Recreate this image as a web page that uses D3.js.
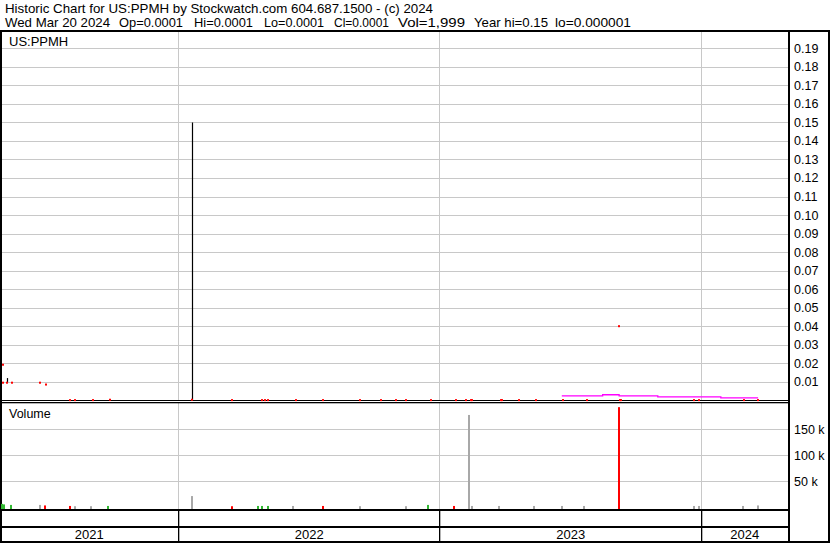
<!DOCTYPE html>
<html><head><meta charset="utf-8">
<script src="https://cdn.jsdelivr.net/npm/d3@7"></script>
<style>
html,body{margin:0;padding:0;background:#fff;}
svg{display:block;font-family:"Liberation Sans",Arial,sans-serif;}
</style>
</head><body>
<svg id="c" width="830" height="543"></svg>
<script>
// ---------- DATA ----------
const headerLine1 = "Historic Chart for US:PPMH by Stockwatch.com 604.687.1500 - (c) 2024";
const headerLine2 = ["Wed Mar 20 2024","Op=0.0001","Hi=0.0001","Lo=0.0001","Cl=0.0001","Vol=1,999","Year hi=0.15","lo=0.000001"];
const symbolLabel = "US:PPMH";
const volumeLabel = "Volume";

const priceDates = ["2021-05-01","2021-05-01","2021-05-06","2021-05-07","2021-05-14","2021-06-22","2021-06-30",
  "2021-08-03","2021-08-09","2021-09-03","2021-09-28","2022-01-20","2022-01-20","2022-03-17",
  "2022-04-28","2022-05-02","2022-05-06","2022-06-14","2022-07-22","2022-09-12","2022-10-10","2022-10-31",
  "2022-11-15","2022-12-19","2023-01-23","2023-02-06","2023-02-13","2023-02-15","2023-03-27","2023-03-29",
  "2023-04-21","2023-05-15","2023-06-21","2023-07-25","2023-09-08","2023-09-09","2023-09-11",
  "2023-12-22","2023-12-28","2024-03-01","2024-03-20"];
const priceHigh = [0.0192,0.0095,0.012,0.0095,0.0095,0.0095,0.0085,
  0.0001,0.0001,0.0001,0.0003,0.15,0.0003,0.0001,
  0.0001,0.0001,0.0001,0.0001,0.0001,0.0001,0.0001,0.0001,
  0.0001,0.0001,0.0001,0.0001,0.0001,0.0001,0.0001,0.0001,
  0.0001,0.0001,0.0001,0.0001,0.04,0.0001,0.0001,
  0.0001,0.0001,0.0001,0.0001];
const priceLow = [0.0192,0.0095,0.0095,0.0095,0.0095,0.0095,0.0085,
  0.0001,0.0001,0.0001,0.0003,0.0001,0.0003,0.0001,
  0.0001,0.0001,0.0001,0.0001,0.0001,0.0001,0.0001,0.0001,
  0.0001,0.0001,0.0001,0.0001,0.0001,0.0001,0.0001,0.0001,
  0.0001,0.0001,0.0001,0.0001,0.04,0.0001,0.0001,
  0.0001,0.0001,0.0001,0.0001];
const priceColor = ["r","r","k","r","r","r","r",
  "r","r","r","r","k","r","r",
  "r","r","r","r","r","r","r","r",
  "r","r","r","r","r","r","r","r",
  "r","r","r","r","r","r","r",
  "r","r","r","r"];

// moving-average style step line (magenta)
const maDates = ["2023-06-20","2023-08-16","2023-09-08","2023-11-01","2024-01-28","2024-03-20"];
const maValues = [0.0024,0.003,0.0024,0.0019,0.0013,0.0013];

const volDates = ["2021-04-30","2021-05-03","2021-05-12","2021-06-21","2021-06-29","2021-08-02","2021-08-09",
  "2021-09-01","2021-09-24","2022-01-20","2022-03-16","2022-04-22","2022-04-28","2022-05-06",
  "2022-06-10","2022-07-22","2022-09-12","2022-11-14","2022-12-15","2023-01-20","2023-02-10",
  "2023-02-14","2023-03-24","2023-05-12","2023-06-20","2023-07-21","2023-09-08","2023-12-21",
  "2023-12-28","2024-02-28","2024-03-20"];
const volValues = [6000,5000,4000,4000,3000,2000,1500,
  1500,2000,21000,1500,2000,2000,2000,
  2000,2000,1500,1500,4000,2000,177000,
  2000,2000,2000,2000,2000,192000,2000,
  2000,2000,3000];
const volColor = ["g","g","g","x","r","r","x",
  "x","g","x","r","g","g","g",
  "x","r","x","x","g","r","x",
  "x","x","x","x","x","r","x",
  "x","x","x"];

const priceTicks = [0.01,0.02,0.03,0.04,0.05,0.06,0.07,0.08,0.09,0.10,0.11,0.12,0.13,0.14,0.15,0.16,0.17,0.18,0.19];
const volTicks = [50000,100000,150000];
const yearBoundaries = ["2022-01-01","2023-01-01","2024-01-01"];
const yearLabels = ["2021","2022","2023","2024"];

// ---------- CHART ----------
const svg = d3.select("#c");
const parse = d3.utcParse("%Y-%m-%d");
const colorMap = {r:"#ff0000", k:"#000000", g:"#33b833", x:"#a8a8a8"};

const plotL = 2, plotR = 788;
const x = d3.scaleUtc().domain([parse("2022-01-01"), parse("2024-01-01")]).range([178.5, 701.5]);
const yP = d3.scaleLinear().domain([0, 0.19]).range([400.3, 48.3]);
const yV = d3.scaleLinear().domain([0, 150000]).range([507, 429]);

svg.append("rect").attr("width",830).attr("height",543).attr("fill","#fff");

// header
svg.append("text").attr("x",5).attr("y",13).attr("font-size",13)
  .attr("textLength",428).attr("lengthAdjust","spacingAndGlyphs").text(headerLine1);
const hx = [5,119,194,264,334,398,474,555];
const hw = [105,64,59,60,55,67,74,76];
headerLine2.forEach((t,i)=>{
  svg.append("text").attr("x",hx[i]).attr("y",27).attr("font-size",13)
    .attr("textLength",hw[i]).attr("lengthAdjust","spacingAndGlyphs").text(t);
});

// gridlines
const grid = svg.append("g").attr("stroke","#c8c8c8").attr("stroke-width",1);
grid.selectAll(".hp").data(priceTicks).join("line")
  .attr("x1",plotL).attr("x2",plotR)
  .attr("y1",d=>Math.round(yP(d))+0.5).attr("y2",d=>Math.round(yP(d))+0.5);
grid.selectAll(".hv").data(volTicks).join("line")
  .attr("x1",plotL).attr("x2",plotR)
  .attr("y1",d=>Math.round(yV(d))+0.5).attr("y2",d=>Math.round(yV(d))+0.5);
const yb = yearBoundaries.map(parse);
grid.selectAll(".vp").data(yb).join("line")
  .attr("x1",d=>Math.round(x(d))-0.5).attr("x2",d=>Math.round(x(d))-0.5)
  .attr("y1",32).attr("y2",400);
grid.selectAll(".vv").data(yb).join("line")
  .attr("x1",d=>Math.round(x(d))-0.5).attr("x2",d=>Math.round(x(d))-0.5)
  .attr("y1",403).attr("y2",509);

// labels in panels
svg.append("text").attr("x",9).attr("y",46).attr("font-size",13).text(symbolLabel);
svg.append("text").attr("x",9).attr("y",418).attr("font-size",12.5).text(volumeLabel);

// frame lines
const frame = svg.append("g").attr("fill","#000");
frame.append("rect").attr("x",0).attr("y",30).attr("width",830).attr("height",2);
frame.append("rect").attr("x",0).attr("y",30).attr("width",2).attr("height",513);
frame.append("rect").attr("x",788).attr("y",30).attr("width",2).attr("height",513);
frame.append("rect").attr("x",828).attr("y",30).attr("width",2).attr("height",513);
frame.append("rect").attr("x",0).attr("y",541).attr("width",830).attr("height",2);
frame.append("rect").attr("x",0).attr("y",400).attr("width",790).attr("height",1);
frame.append("rect").attr("x",0).attr("y",402).attr("width",790).attr("height",1.3);
frame.append("rect").attr("x",0).attr("y",509).attr("width",790).attr("height",2);
frame.append("rect").attr("x",0).attr("y",526).attr("width",790).attr("height",2);
frame.selectAll(".ys").data(yb).join("rect")
  .attr("x",d=>Math.round(x(d))-1).attr("width",1.3)
  .attr("y",511).attr("height",30);

// volume bars
const vData = volDates.map((d,i)=>({d:parse(d), v:volValues[i], c:volColor[i]}));
svg.append("g").selectAll("rect").data(vData).join("rect")
  .attr("x",d=>Math.round(x(d.d))-1).attr("width",2)
  .attr("y",d=>yV(d.v)).attr("height",d=>yV(0)+2-yV(d.v))
  .attr("fill",d=>colorMap[d.c]);

// magenta step line
const maData = maDates.map((d,i)=>({d:parse(d), v:maValues[i]}));
svg.append("path").datum(maData)
  .attr("d", d3.line().x(d=>x(d.d)).y(d=>yP(d.v)).curve(d3.curveStepAfter))
  .attr("fill","none").attr("stroke","#ff00ff").attr("stroke-width",1.3);

// price bars
const pData = priceDates.map((d,i)=>({d:parse(d), h:priceHigh[i], l:priceLow[i], c:priceColor[i]}));
const pg = svg.append("g");
pg.selectAll("line").data(pData.filter(p=>p.c==="k")).join("line")
  .attr("x1",d=>Math.round(x(d.d))+0.5).attr("x2",d=>Math.round(x(d.d))+0.5)
  .attr("y1",d=>yP(d.h)).attr("y2",d=>yP(d.l))
  .attr("stroke","#000").attr("stroke-width",1.2);
pg.selectAll("rect").data(pData.filter(p=>p.c==="r")).join("rect")
  .attr("x",d=>Math.round(x(d.d))-1).attr("width",2)
  .attr("y",d=>yP(d.h)-1).attr("height",d=>Math.max(2,yP(d.l)-yP(d.h)+2))
  .attr("fill","#ff0000");

// year labels
const bounds = [0, ...yb.map(d=>x(d)), plotR];
svg.append("g").selectAll("text").data(yearLabels).join("text")
  .attr("x",(d,i)=>(bounds[i]+bounds[i+1])/2).attr("y",539)
  .attr("text-anchor","middle").attr("font-size",13).text(d=>d);

// right axes
const axP = d3.axisRight(yP).tickValues(priceTicks).tickFormat(d3.format(".2f")).tickSize(0).tickPadding(5);
const gP = svg.append("g").attr("transform","translate(789,0)").call(axP);
const axV = d3.axisRight(yV).tickValues(volTicks).tickFormat(d=>(d/1000)+" k").tickSize(0).tickPadding(5);
const gV = svg.append("g").attr("transform","translate(789,0)").call(axV);
[gP,gV].forEach(g=>{
  g.select(".domain").remove();
  g.selectAll("text").attr("font-size",12.5).attr("fill","#000")
    .attr("font-family","'Liberation Sans',Arial,sans-serif");
});
</script>
</body></html>
